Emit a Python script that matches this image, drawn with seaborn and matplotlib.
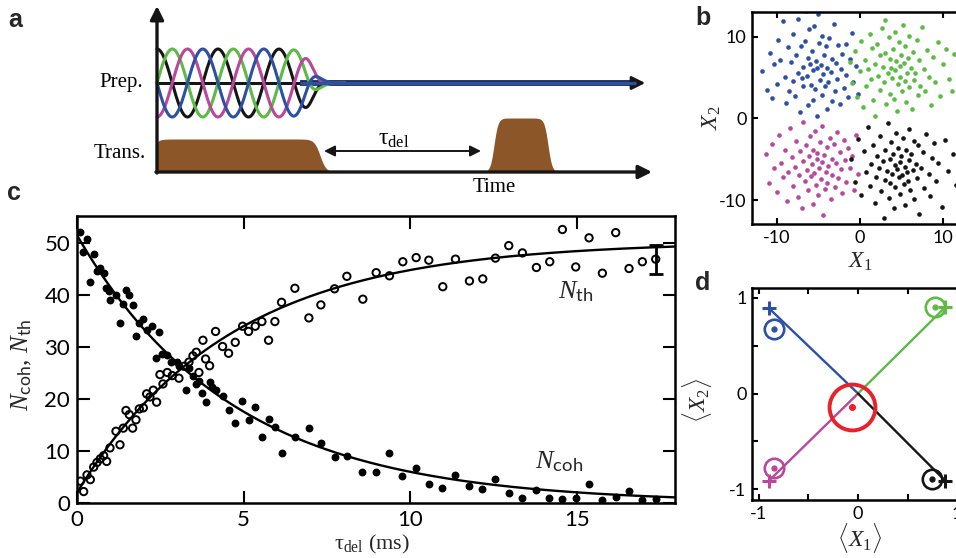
import numpy as np
import matplotlib
matplotlib.use("Agg")
import matplotlib.pyplot as plt
import seaborn as sns

# ---- panel c data ----
coh_t = [0.08, 0.18, 0.30, 0.38, 0.50, 0.60, 0.70, 0.80, 0.87, 0.97, 0.99, 1.17, 1.29, 1.39,
         1.47, 1.57, 1.67, 1.77, 1.87, 1.99, 2.09, 2.25, 2.37, 2.47, 2.56, 2.71, 2.81, 3.01,
         3.06, 3.26, 3.36, 3.48, 3.58, 3.66, 3.76, 3.86, 3.98, 4.06, 4.16, 4.37, 4.55, 4.75,
         4.95, 5.15, 5.35, 5.55, 5.75, 5.94, 6.14, 6.54, 6.96, 7.32, 7.73, 8.10, 8.56, 8.96,
         9.38, 9.76, 10.18, 10.56, 10.96, 11.36, 11.76, 12.16, 12.56, 12.96, 13.37, 13.79,
         14.17, 14.57, 14.97, 15.37, 15.77, 16.17, 16.57, 16.97, 17.37]
coh_n = [52.2, 48.2, 50.8, 42.6, 47.9, 44.7, 45.2, 44.2, 41.3, 40.7, 39.1, 40.1, 34.7, 38.3,
         41.0, 40.1, 38.1, 32.2, 34.7, 35.3, 33.3, 34.0, 27.9, 32.8, 28.7, 28.5, 27.2, 27.1,
         26.3, 21.7, 26.0, 24.4, 22.9, 23.4, 21.2, 19.4, 23.2, 22.4, 21.8, 20.6, 17.8, 15.3,
         19.7, 15.9, 18.5, 12.7, 16.2, 14.6, 9.7, 12.7, 14.4, 11.5, 8.8, 9.1, 5.9, 5.9,
         9.7, 5.1, 6.8, 3.7, 2.8, 5.4, 3.3, 2.6, 4.7, 2.0, 1.0, 2.5,
         0.9, 0.7, 1.0, 3.6, 0.6, 1.2, 2.4, 0.6, 0.7]

th_t = [0.10, 0.20, 0.30, 0.40, 0.50, 0.60, 0.70, 0.80, 0.89, 0.99, 1.17, 1.29, 1.39, 1.47,
        1.57, 1.67, 1.77, 1.87, 1.99, 2.09, 2.19, 2.29, 2.39, 2.49, 2.58, 2.71, 2.86, 3.06,
        3.21, 3.36, 3.48, 3.58, 3.66, 3.78, 3.86, 3.98, 4.16, 4.37, 4.55, 4.75, 4.97, 5.15,
        5.35, 5.55, 5.75, 5.94, 6.14, 6.54, 6.96, 7.32, 7.73, 8.10, 8.58, 8.98, 9.38, 9.78,
        10.18, 10.56, 10.98, 11.36, 11.78, 12.18, 12.56, 12.96, 13.37, 13.79, 14.19, 14.57,
        14.97, 15.37, 15.77, 16.17, 16.57, 16.97, 17.37]
th_n = [4.2, 2.2, 5.4, 4.5, 6.9, 7.8, 8.5, 9.1, 8.0, 10.6, 13.8, 11.2, 14.4, 17.8,
        17.0, 14.4, 16.0, 18.1, 18.3, 21.0, 20.4, 21.7, 19.4, 24.7, 22.9, 25.1, 24.5, 24.0,
        26.3, 27.1, 28.3, 29.0, 25.1, 31.3, 27.7, 26.4, 33.0, 30.1, 28.8, 30.9, 34.0, 33.0,
        34.0, 34.9, 31.3, 34.9, 38.6, 41.3, 35.6, 38.1, 41.2, 43.6, 39.2, 44.3, 43.7, 46.4,
        47.2, 46.7, 41.6, 46.9, 42.7, 43.1, 47.1, 49.5, 48.1, 45.3, 46.4, 52.6,
        45.4, 51.0, 44.2, 52.0, 45.1, 46.4, 46.9]

# fitted exponentials: N_coh = a*exp(-t/tau), N_th = c + (m - c)*(1 - exp(-t/tau))
coh_fit = {"a": 51.5, "tau": 4.65}
th_fit = {"c": 2.0, "m": 50.3, "tau": 4.6}

err_t = [17.37]
err_n = [46.9]
err_size = [2.8]

# ---- panel b clusters ----
blue_pts = [(-11.8, 5.8), (-11.2, 3.5), (-10.8, 8.0), (-10.6, 2.5), (-10.3, 6.6), (-10.0, 4.2),
            (-9.9, 9.6), (-9.6, 7.1), (-9.2, 11.9), (-9.0, 5.1), (-8.9, 1.9), (-8.7, 8.7),
            (-8.5, 3.3), (-8.3, 6.9), (-8.1, 10.3), (-8.0, 4.6), (-7.8, 2.7), (-7.7, 7.8),
            (-7.5, 12.2), (-7.4, 5.6), (-7.2, 0.8), (-7.1, 8.9), (-7.0, 4.9), (-6.9, 6.3),
            (-6.8, 3.9), (-6.6, 9.4), (-6.5, 13.1), (-6.4, 5.2), (-6.3, 7.4), (-6.2, 1.6),
            (-6.1, 10.9), (-6.0, 6.7), (-5.9, 4.1), (-5.8, 8.2), (-5.7, 2.3), (-5.6, 5.9),
            (-5.5, 11.3), (-5.4, 3.6), (-5.3, 7.0), (-5.2, 6.2), (-5.1, 0.3), (-5.0, 12.8),
            (-4.9, 9.2), (-4.8, 4.7), (-4.7, 6.5), (-4.6, 2.9), (-4.5, 10.1), (-4.4, 5.4),
            (-4.3, 7.7), (-4.2, 3.9), (-4.1, 8.8), (-4.0, 1.2), (-3.9, 6.1), (-3.8, 4.4),
            (-3.7, 9.8), (-3.5, 5.7), (-3.4, 2.1), (-3.3, 7.3), (-3.1, 11.5), (-3.0, 3.4),
            (-2.9, 6.8), (-2.7, 4.8), (-2.6, 9.0), (-2.4, 1.7), (-2.3, 6.0), (-2.1, 7.9),
            (-1.9, 3.7), (-1.7, 5.3), (-1.6, 9.1), (-1.4, 2.6), (-1.2, 7.2), (-0.9, 10.4),
            (-0.8, 4.5), (-0.5, 6.4), (-0.2, 3.0)]
green_pts = [(-1.2, 6.9), (-0.9, 4.3), (-0.6, 8.2), (-0.3, 2.6), (0.0, 5.8), (0.2, 9.5),
             (0.4, 1.4), (0.6, 7.1), (0.8, 3.9), (1.0, 6.0), (1.2, 10.3), (1.3, 4.8),
             (1.5, 8.6), (1.6, 2.2), (1.8, 6.6), (1.9, 0.3), (2.1, 9.1), (2.2, 5.2),
             (2.4, 7.7), (2.5, 3.5), (2.7, 11.1), (2.8, 6.3), (2.9, 4.4), (3.0, 12.0),
             (3.1, 8.0), (3.2, 1.8), (3.4, 5.5), (3.5, 9.9), (3.6, 7.2), (3.7, 3.0),
             (3.8, 6.1), (3.9, 4.9), (4.0, 8.5), (4.1, 2.4), (4.2, 10.6), (4.3, 5.9),
             (4.4, 7.0), (4.5, 0.9), (4.6, 4.2), (4.7, 9.3), (4.8, 6.4), (4.9, 5.1),
             (5.0, 7.8), (5.1, 3.3), (5.2, 11.4), (5.3, 6.8), (5.4, 4.6), (5.5, 8.9),
             (5.6, 2.0), (5.7, 5.6), (5.8, 7.4), (5.9, 3.8), (6.0, 10.1), (6.2, 6.2),
             (6.3, 1.2), (6.4, 8.1), (6.6, 4.7), (6.7, 5.5), (6.9, 9.6), (7.0, 2.9),
             (7.2, 7.1), (7.3, 4.0), (7.5, 11.2), (7.7, 6.0), (7.9, 3.4), (8.1, 8.4),
             (8.3, 5.0), (8.6, 1.6), (8.8, 7.5), (9.1, 4.4), (9.4, 9.3), (9.7, 2.7),
             (10.0, 6.6), (10.4, 8.5), (10.8, 4.8), (11.1, 3.3), (11.4, 7.9)]
magenta_pts = [(-11.3, -4.3), (-10.9, -7.9), (-10.6, -3.1), (-10.3, -6.1), (-10.0, -9.0),
               (-9.8, -2.0), (-9.5, -5.4), (-9.3, -7.2), (-9.0, -3.8), (-8.8, -10.1),
               (-8.6, -6.6), (-8.4, -1.2), (-8.2, -4.7), (-8.0, -8.3), (-7.8, -5.9),
               (-7.7, -2.7), (-7.5, -9.6), (-7.3, -6.9), (-7.2, -4.0), (-7.0, -11.0),
               (-6.9, -5.2), (-6.8, -0.4), (-6.6, -7.6), (-6.5, -3.3), (-6.4, -6.3),
               (-6.3, -8.8), (-6.1, -4.6), (-6.0, -2.1), (-5.9, -7.0), (-5.8, -5.6),
               (-5.7, -10.4), (-5.6, -3.9), (-5.5, -6.7), (-5.4, -1.5), (-5.3, -8.1),
               (-5.2, -5.0), (-5.1, -4.2), (-5.0, -9.4), (-4.9, -6.1), (-4.8, -2.9),
               (-4.7, -7.4), (-4.6, -5.3), (-4.5, -0.9), (-4.4, -11.8), (-4.3, -4.5),
               (-4.2, -8.6), (-4.1, -6.5), (-4.0, -3.5), (-3.9, -7.9), (-3.8, -5.8),
               (-3.6, -2.4), (-3.5, -9.9), (-3.4, -4.9), (-3.3, -6.9), (-3.1, -3.1),
               (-3.0, -8.4), (-2.9, -5.5), (-2.7, -1.6), (-2.6, -7.3), (-2.4, -4.1),
               (-2.3, -6.2), (-2.1, -9.1), (-1.9, -2.6), (-1.8, -5.1), (-1.6, -7.8),
               (-1.4, -3.6), (-1.2, -6.0), (-0.9, -4.6), (-0.7, -8.7), (-0.4, -2.0),
               (-0.2, -6.8)]
black_pts = [(-1.0, -5.0), (-0.6, -7.8), (-0.2, -2.5), (0.2, -9.4), (0.5, -4.0), (0.8, -6.6),
             (1.0, -1.1), (1.2, -8.3), (1.4, -5.6), (1.6, -3.2), (1.8, -10.3), (2.0, -7.1),
             (2.1, -4.6), (2.3, -6.0), (2.5, -2.1), (2.6, -8.9), (2.8, -5.2), (2.9, -12.2),
             (3.0, -7.5), (3.1, -3.8), (3.3, -6.4), (3.4, -0.6), (3.5, -9.7), (3.6, -5.0),
             (3.7, -7.9), (3.8, -2.9), (3.9, -6.8), (4.0, -4.3), (4.1, -11.0), (4.2, -5.7),
             (4.3, -8.4), (4.4, -1.8), (4.5, -6.2), (4.6, -3.6), (4.7, -7.2), (4.8, -9.2),
             (4.9, -5.3), (5.0, -4.6), (5.1, -6.9), (5.2, -2.4), (5.3, -8.0), (5.4, -5.9),
             (5.5, -10.6), (5.6, -3.9), (5.7, -6.6), (5.8, -7.6), (5.9, -1.3), (6.0, -5.1),
             (6.1, -8.8), (6.2, -4.4), (6.4, -6.3), (6.5, -2.8), (6.6, -9.9), (6.8, -5.6),
             (6.9, -7.3), (7.0, -3.3), (7.2, -11.7), (7.4, -6.0), (7.6, -4.1), (7.8, -8.5),
             (8.0, -1.9), (8.3, -6.8), (8.5, -9.5), (8.7, -4.8), (9.0, -3.0), (9.2, -7.7),
             (9.5, -5.4), (9.9, -10.8), (10.3, -2.6), (10.7, -6.4), (11.2, -4.3), (11.6, -8.1)]

# ---- panel d: mean positions ----
d_names = ["blue", "green", "magenta", "black"]
d_cross_x = [-0.90, 0.88, -0.90, 0.88]
d_cross_y = [0.89, 0.90, -0.91, -0.91]
d_meas_x = [-0.85, 0.78, -0.85, 0.75]
d_meas_y = [0.67, 0.90, -0.78, -0.89]
red_x = [-0.06]
red_y = [-0.14]

BLUE = "#2d50a5"
GREEN = "#5cba45"
MAGENTA = "#b7489c"
BLACK = "#151515"
RED = "#e8222a"
BROWN = "#8c5629"
col = {"blue": BLUE, "green": GREEN, "magenta": MAGENTA, "black": BLACK}

sns.set_style("ticks")
plt.rcParams.update({
    "font.family": ["Lato", "DejaVu Sans"],
    "mathtext.fontset": "custom",
    "mathtext.rm": "Liberation Serif",
    "mathtext.it": "Liberation Serif:italic",
    "mathtext.sf": "Lato",
    "axes.unicode_minus": False,
})

W, H = 956, 558
fig = plt.figure(figsize=(W / 100, H / 100), dpi=100)


def px_axes(left, top, right, bottom):
    return fig.add_axes([left / W, 1 - bottom / H, (right - left) / W, (bottom - top) / H])


def style(ax, labelsize, length, pad=4):
    ax.tick_params(which="both", direction="in", top=True, right=True, width=1.5,
                   labelsize=labelsize, pad=pad, colors="black")
    ax.tick_params(which="major", length=length)
    ax.tick_params(which="minor", length=length)
    for s in ax.spines.values():
        s.set_linewidth(1.8)
        s.set_color("black")


# ================= panel a (schematic) =================
ax_a = px_axes(0, 0, 690, 200)
ax_a.set_xlim(0, 690)
ax_a.set_ylim(200, 0)
ax_a.axis("off")

AXIS_X, BASE_Y, PREP_Y = 157, 172, 83
WAVE_PERIOD, WAVE_AMP, WAVE_STOP = 61, 34, 312
wave_order = ["black", "green", "magenta", "blue"]
wave_phase = [0.0, 0.25, 0.5, 0.75]

xs = np.linspace(AXIS_X, 345, 800)
env = 1 / (1 + np.exp((xs - WAVE_STOP) / 5))
ax_a.plot([AXIS_X, WAVE_STOP], [PREP_Y, PREP_Y], color=BLACK, lw=2.2, zorder=2)
for name, ph in zip(wave_order, wave_phase):
    ys = PREP_Y - WAVE_AMP * env * np.cos(2 * np.pi * ((xs - AXIS_X) / WAVE_PERIOD - ph))
    ax_a.plot(xs, ys, color=col[name], lw=2.2, zorder=3)
ax_a.plot([300, 636], [PREP_Y, PREP_Y], color="#1c2a55", lw=4.2, zorder=2, solid_capstyle="butt")
ax_a.plot([300, 636], [PREP_Y, PREP_Y], color=BLUE, lw=2.4, zorder=4, solid_capstyle="butt")
ax_a.annotate("", xy=(648, PREP_Y), xytext=(630, PREP_Y),
              arrowprops=dict(arrowstyle="-|>", color=BLACK, lw=2, mutation_scale=20))

# transport pulses
pulses = [(150, 320, 33, 3.0), (494, 548, 54, 2.0)]
xp = np.linspace(AXIS_X, 640, 1500)
for a, b, h, w in pulses:
    hp = h * (1 / (1 + np.exp(-(xp - a) / w)) - 1 / (1 + np.exp(-(xp - b) / w)))
    ax_a.fill_between(xp, BASE_Y, BASE_Y - hp, color=BROWN, lw=0, zorder=1)

# axes arrows
ax_a.annotate("", xy=(AXIS_X, 6), xytext=(AXIS_X, BASE_Y + 1),
              arrowprops=dict(arrowstyle="-|>", color=BLACK, lw=2.4, mutation_scale=20,
                              shrinkA=0, shrinkB=0))
ax_a.annotate("", xy=(652, BASE_Y), xytext=(AXIS_X - 1, BASE_Y),
              arrowprops=dict(arrowstyle="-|>", color=BLACK, lw=2.4, mutation_scale=20,
                              shrinkA=0, shrinkB=0))
ax_a.annotate("", xy=(324, 151), xytext=(481, 151),
              arrowprops=dict(arrowstyle="<|-|>", color=BLACK, lw=1.4, mutation_scale=16,
                              shrinkA=0, shrinkB=0))

serif = dict(family=["Liberation Serif", "DejaVu Serif"], color="black")
ax_a.text(143, PREP_Y, "Prep.", ha="right", va="center", fontsize=15, **serif)
ax_a.text(146, 153, "Trans.", ha="right", va="center", fontsize=15, **serif)
ax_a.text(494, 187, "Time", ha="center", va="center", fontsize=15, **serif)
ax_a.text(394, 139, r"$\mathrm{\tau}_{\mathrm{del}}$", ha="center", va="center",
          fontsize=17, **serif)

# ================= panel c =================
ax_c = px_axes(77, 216, 675, 503)
t_fit = np.linspace(0, 18, 300)
coh_curve = coh_fit["a"] * np.exp(-t_fit / coh_fit["tau"])
th_curve = th_fit["c"] + (th_fit["m"] - th_fit["c"]) * (1 - np.exp(-t_fit / th_fit["tau"]))
sns.lineplot(x=t_fit, y=coh_curve, ax=ax_c, color="black", lw=1.7, zorder=2)
sns.lineplot(x=t_fit, y=th_curve, ax=ax_c, color="black", lw=1.7, zorder=2)
sns.scatterplot(x=coh_t, y=coh_n, ax=ax_c, color="black", s=32, linewidth=0, zorder=3)
sns.scatterplot(x=th_t, y=th_n, ax=ax_c, facecolor="none", edgecolor="black", s=28,
                linewidth=1.4, zorder=3)
ax_c.errorbar(err_t, err_n, yerr=err_size, fmt="none", ecolor="black", elinewidth=2,
              capsize=5, capthick=2, zorder=4)
ax_c.set_xlim(0, 17.95)
ax_c.set_ylim(0, 55.2)
ax_c.set_xticks([0, 5, 10, 15])
ax_c.set_yticks([0, 10, 20, 30, 40, 50])
style(ax_c, 16, 9, pad=5)
ax_c.set_ylabel(r"$N_{\mathsf{coh}},\,N_{\mathsf{th}}$", fontsize=18)
ax_c.yaxis.set_label_coords(-0.072, 0.48)
ax_c.set_xlabel(r"$\mathrm{\tau}_{\mathrm{del}}$ (ms)", fontsize=16,
                family=["Liberation Serif", "DejaVu Serif"])
ax_c.xaxis.set_label_coords(0.493, -0.105)
ax_c.text(14.45, 38.3, r"$N_{\mathsf{th}}$", fontsize=19, ha="left", va="bottom")
ax_c.text(13.75, 5.6, r"$N_{\mathsf{coh}}$", fontsize=19, ha="left", va="bottom")

# ================= panel b =================
ax_b = px_axes(752, 12, 967.5, 224)
for name, pts in zip(["blue", "green", "magenta", "black"],
                     [blue_pts, green_pts, magenta_pts, black_pts]):
    px_, py_ = zip(*pts)
    sns.scatterplot(x=list(px_), y=list(py_), ax=ax_b, color=col[name], s=11, linewidth=0)
ax_b.set_xlim(-13, 13)
ax_b.set_ylim(-12.9, 13)
ax_b.set_xticks([-10, 0, 10])
ax_b.set_yticks([-10, 0, 10])
style(ax_b, 13, 4, pad=4)
ax_b.set_ylabel(r"$X_2$", fontsize=17)
ax_b.yaxis.set_label_coords(-0.135, 0.5)
ax_b.set_xlabel(r"$X_1$", fontsize=17)
ax_b.xaxis.set_label_coords(0.5, -0.125)

# ================= panel d =================
ax_d = px_axes(752, 288, 973, 500)
for i, name in enumerate(d_names):
    sns.lineplot(x=[0, d_cross_x[i]], y=[0, d_cross_y[i]], ax=ax_d, color=col[name], lw=1.7)
    ax_d.plot(d_cross_x[i], d_cross_y[i], marker="+", ms=10, mew=2.2, color=col[name])
    ax_d.plot(d_meas_x[i], d_meas_y[i], marker="o", ms=14, mfc="none", mew=1.9,
              mec=col[name])
    ax_d.plot(d_meas_x[i], d_meas_y[i], marker="o", ms=3.5, color=col[name])
ax_d.plot(red_x, red_y, marker="o", ms=33, mfc="none", mew=2.8, mec=RED, ls="none")
ax_d.plot(red_x, red_y, marker="o", ms=4, color=RED, ls="none")
ax_d.set_xlim(-1.07, 1.16)
ax_d.set_ylim(-1.11, 1.10)
ax_d.set_xticks([-1, 0, 1])
ax_d.set_yticks([-1, 0, 1])
ax_d.set_xticks([-0.5, 0.5], minor=True)
ax_d.set_yticks([-0.5, 0.5], minor=True)
style(ax_d, 13, 4, pad=4)
ax_d.set_ylabel(r"$\langle X_2\rangle$", fontsize=17)
ax_d.yaxis.set_label_coords(-0.17, 0.47)
ax_d.set_xlabel(r"$\langle X_1\rangle$", fontsize=17)
ax_d.xaxis.set_label_coords(0.489, -0.1)

# panel letters
lab = dict(fontsize=18, fontweight="bold", family=["Liberation Sans", "DejaVu Sans"],
           ha="center", va="center")
fig.text(15 / W, 1 - 20 / H, "a", **lab)
fig.text(703 / W, 1 - 18 / H, "b", **lab)
fig.text(14 / W, 1 - 193 / H, "c", **lab)
fig.text(703 / W, 1 - 283 / H, "d", **lab)

fig.savefig("out.png", dpi=100)
